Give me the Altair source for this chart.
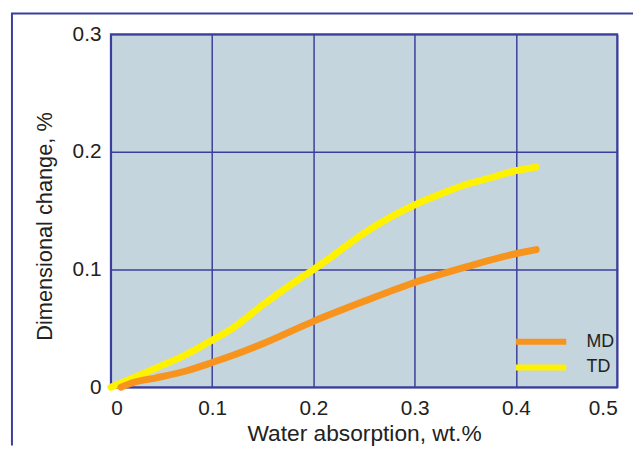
import altair as alt
import pandas as pd

td_x = [0.0, 0.025, 0.045, 0.075, 0.1, 0.12, 0.15, 0.185, 0.2, 0.215, 0.25, 0.275, 0.3, 0.325, 0.35, 0.375, 0.4, 0.42]
td_y = [0.0, 0.009, 0.0165, 0.028, 0.04, 0.05, 0.07, 0.0915, 0.1, 0.109, 0.131, 0.144, 0.155, 0.164, 0.172, 0.178, 0.184, 0.187]
md_x = [0.01, 0.022, 0.045, 0.075, 0.1, 0.12, 0.15, 0.2, 0.25, 0.3, 0.35, 0.4, 0.42]
md_y = [0.0, 0.004, 0.008, 0.014, 0.021, 0.027, 0.037, 0.056, 0.073, 0.089, 0.102, 0.1135, 0.117]
series = ["MD", "TD"]
colors = ["#f7941d", "#fff200"]
x_ticks = [0, 0.1, 0.2, 0.3, 0.4, 0.5]
y_ticks = [0, 0.1, 0.2, 0.3]

rows = [{"x": a, "y": b, "s": "TD"} for a, b in zip(td_x, td_y)]
rows += [{"x": a, "y": b, "s": "MD"} for a, b in zip(md_x, md_y)]
df = pd.DataFrame(rows)

BLUE = "#3b3f9c"
FONT = "Liberation Sans"
TXT = "#222222"

axis_common = dict(
    format="~g", grid=True, gridColor=BLUE, gridWidth=1.5, gridOpacity=1,
    domain=False, ticks=False,
    labelFont=FONT, labelFontSize=21, labelColor=TXT,
    titleFont=FONT, titleFontWeight="normal", titleColor=TXT,
)

lines = alt.Chart(df).mark_line(strokeWidth=7, strokeCap="round", interpolate="monotone").encode(
    x=alt.X("x:Q", scale=alt.Scale(domain=[0, 0.5], nice=False),
            axis=alt.Axis(values=x_ticks, title="Water absorption, wt.%", labelPadding=11,
                          titleFontSize=23, titlePadding=4, **axis_common)),
    y=alt.Y("y:Q", scale=alt.Scale(domain=[0, 0.3], nice=False),
            axis=alt.Axis(values=y_ticks, title="Dimensional change, %", labelPadding=10,
                          titleFontSize=22, titleY=194, titlePadding=16, **axis_common)),
    color=alt.Color("s:N", scale=alt.Scale(domain=series, range=colors),
                    legend=alt.Legend(title=None, orient="none", legendX=426, legendY=302,
                                      symbolType="M-10.2,0H10.2", symbolSize=25, symbolStrokeWidth=6,
                                      labelFontSize=18, labelFont=FONT, labelColor=TXT,
                                      rowPadding=2, labelOffset=37)),
    detail="s:N",
)

one = pd.DataFrame({"a": [0]})
frame_left = alt.Chart(one).mark_rule(color=BLUE, strokeWidth=2).encode(
    x=alt.value(-100), y=alt.value(-21), y2=alt.value(416))
frame_top = alt.Chart(one).mark_rule(color=BLUE, strokeWidth=2).encode(
    x=alt.value(-101), x2=alt.value(528), y=alt.value(-21))

chart = alt.layer(frame_left, frame_top, lines).properties(
    width=512, height=357,
    padding={"left": 2, "top": 2, "right": 0, "bottom": 0},
).configure_view(
    fill="#c5d5de", stroke=BLUE, strokeWidth=2
)

chart.save("out.html", embed_options={"renderer": "svg", "actions": False})
